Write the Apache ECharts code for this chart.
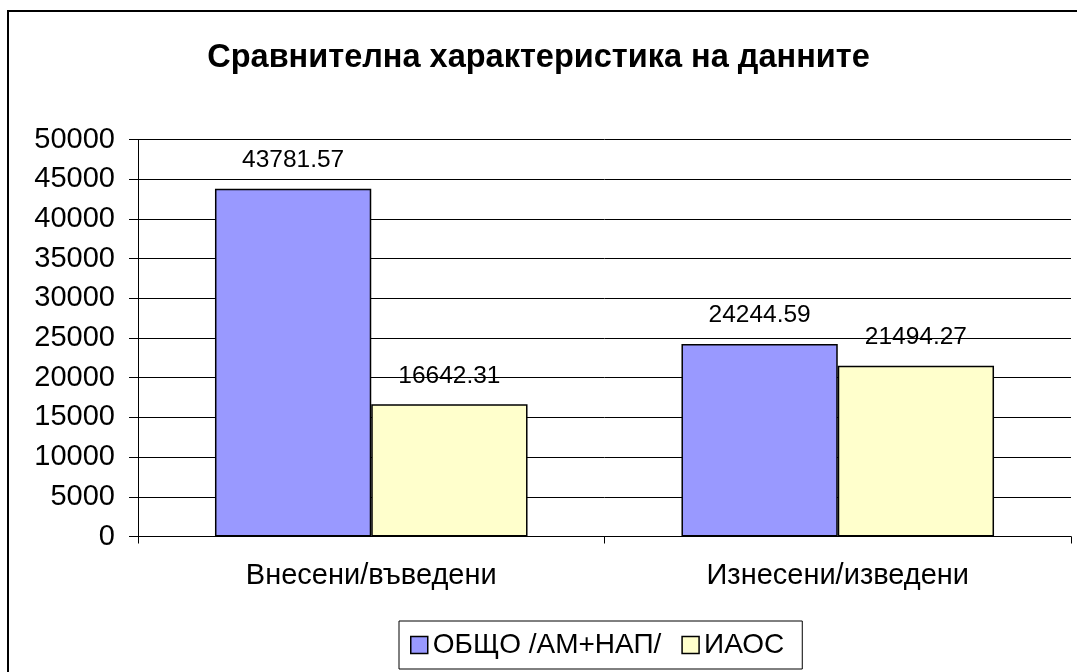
<!DOCTYPE html>
<html>
<head>
<meta charset="utf-8">
<script src="https://cdn.jsdelivr.net/npm/echarts@6/dist/echarts.min.js"></script>
<style>
    html, body { margin: 0; padding: 0; background: #fff; }
    #chart { width: 1077px; height: 672px; }
</style>
</head>
<body>
<div id="chart"></div>
<script>
var categories = ['Внесени/въведени', 'Изнесени/изведени'];
var seriesNames = ['ОБЩО /АМ+НАП/', 'ИАОС'];
var obshtoData = [43781.57, 24244.59];
var iaosData = [16642.31, 21494.27];
var yTicks = [0, 50000, 5000]; // min, max, interval

var fontName = 'Liberation Sans';

initChart();

function initChart() {
    var myChart = echarts.init(document.getElementById('chart'));
    var option = {
        backgroundColor: '#fff',
        animation: false,
        title: {
            text: 'Сравнителна характеристика на данните',
            left: 'center',
            top: 37,
            textStyle: {
                fontFamily: fontName,
                fontSize: 32.5,
                fontWeight: 'bold',
                color: '#000'
            }
        },
        graphic: [
            {
                type: 'rect',
                shape: { x: 8, y: 11, width: 1200, height: 800 },
                style: { fill: 'none', stroke: '#000', lineWidth: 2 },
                silent: true
            }
        ],
        legend: {
            data: seriesNames,
            left: 399,
            top: 621,
            orient: 'horizontal',
            padding: [10, 18, 10, 11],
            itemWidth: 17,
            itemHeight: 17,
            itemGap: 20,
            borderColor: '#000',
            borderWidth: 1,
            borderRadius: 0,
            icon: 'rect',
            itemStyle: {
                borderColor: '#000',
                borderWidth: 1.5
            },
            textStyle: {
                fontFamily: fontName,
                fontSize: 28,
                color: '#000'
            }
        },
        grid: {
            left: 138,
            right: 6,
            top: 139.5,
            bottom: 135.5
        },
        xAxis: [
            {
                type: 'category',
                data: categories,
                axisLine: { lineStyle: { color: '#000', width: 1 } },
                axisTick: { show: true, length: 7, lineStyle: { color: '#000' } },
                axisLabel: {
                    margin: 25,
                    fontFamily: fontName,
                    fontSize: 29,
                    color: '#000'
                }
            }
        ],
        yAxis: [
            {
                type: 'value',
                min: yTicks[0],
                max: yTicks[1],
                interval: yTicks[2],
                axisLine: { show: true, lineStyle: { color: '#000', width: 1 } },
                axisTick: { show: true, length: 9, lineStyle: { color: '#000' } },
                splitLine: { show: true, lineStyle: { color: '#000', width: 1 } },
                axisLabel: {
                    margin: 23,
                    formatter: function (v) { return String(v); },
                    fontFamily: fontName,
                    fontSize: 29,
                    color: '#000'
                }
            }
        ],
        series: [
            {
                name: seriesNames[0],
                type: 'bar',
                data: obshtoData,
                barGap: '0%',
                barCategoryGap: '33%',
                itemStyle: { color: '#9999ff', borderColor: '#000', borderWidth: 1.5 },
                label: {
                    show: true,
                    position: 'top',
                    distance: 16,
                    fontFamily: fontName,
                    fontSize: 24.5,
                    color: '#000'
                }
            },
            {
                name: seriesNames[1],
                type: 'bar',
                data: iaosData,
                barGap: '0%',
                barCategoryGap: '33%',
                itemStyle: { color: '#ffffcc', borderColor: '#000', borderWidth: 1.5 },
                label: {
                    show: true,
                    position: 'top',
                    distance: 16,
                    fontFamily: fontName,
                    fontSize: 24.5,
                    color: '#000'
                }
            }
        ]
    };

    myChart.setOption(option);
}
</script>
</body>
</html>
